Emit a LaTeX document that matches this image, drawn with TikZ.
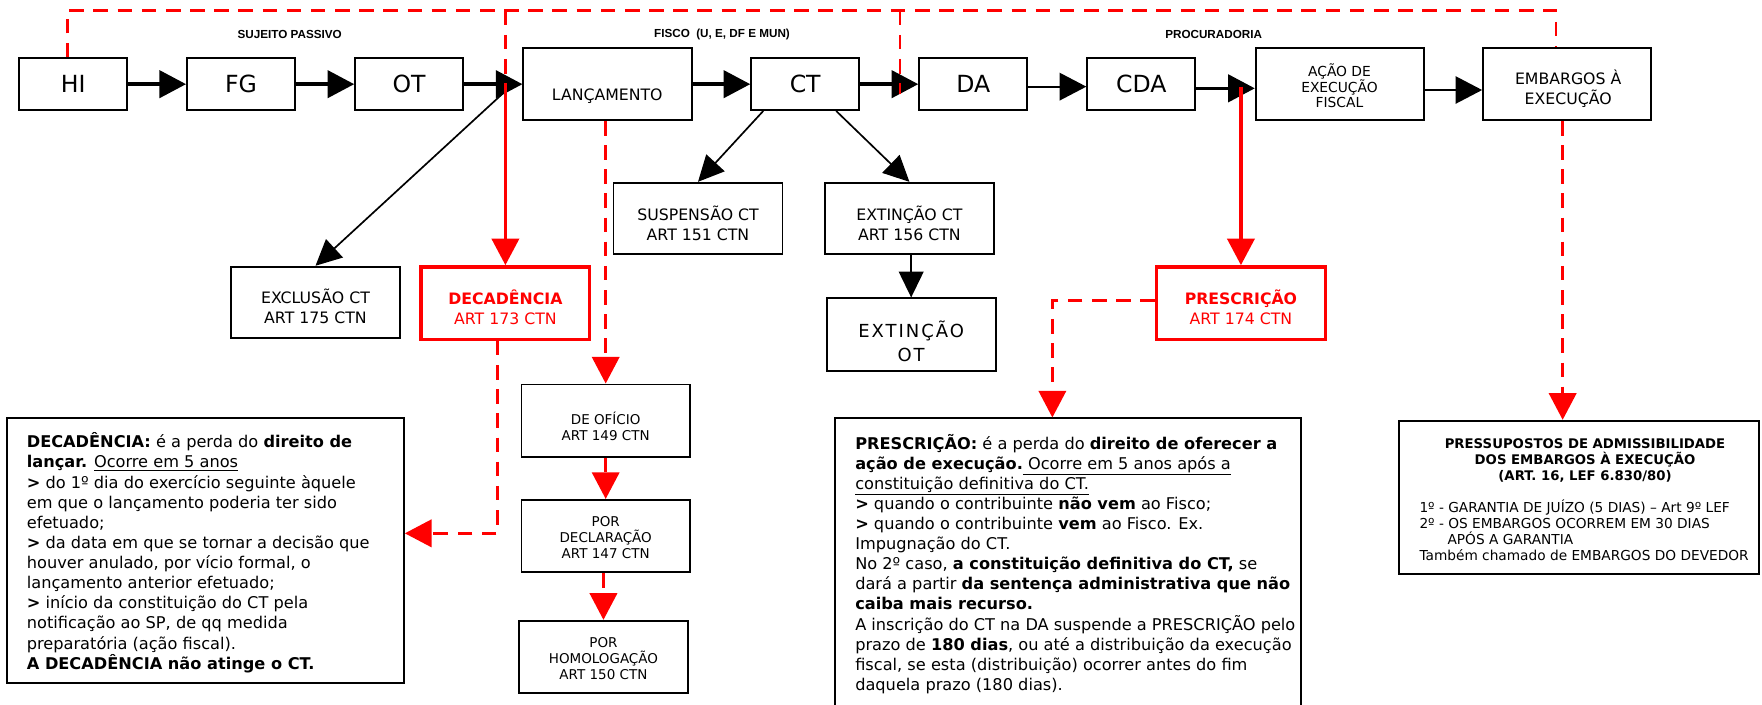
\documentclass[tikz,border=0pt]{standalone}
\usepackage{fontspec}
\setmainfont{DejaVu Sans}
\newfontfamily\labfont{Liberation Sans}
\newfontfamily\spfont[LetterSpace=11]{DejaVu Sans}
\usetikzlibrary{arrows.meta,calc}
\begin{document}
\begin{tikzpicture}[x=1pt,y=-1pt,
  bx/.style={draw=black,line width=1.6pt,inner sep=0pt},
  rbx/.style={draw=red,line width=3pt,inner sep=0pt},
  topbox/.style={bx,minimum width=96.2pt,minimum height=46pt,font=\fontsize{21}{25}\selectfont},
  widebox/.style={bx,minimum width=149.8pt,minimum height=63.8pt},
  midbox/.style={bx,minimum width=150.3pt,minimum height=63.7pt},
  redbox/.style={rbx,minimum width=150pt,minimum height=64.4pt},
  smallbox/.style={bx,minimum width=150pt,minimum height=64.4pt},
  txt/.style={inner sep=0pt,align=center,font=\fontsize{14}{17.7}\selectfont},
  smalltxt/.style={inner sep=0pt,align=center,font=\fontsize{12}{14.2}\selectfont},
  lab/.style={inner sep=0pt,font=\labfont\bfseries\fontsize{10.4}{12}\selectfont},
  tip/.style={-{Triangle[length=23.7pt,width=24.3pt]}},
  thk/.style={line width=3pt,tip},
  thn/.style={line width=1.7pt,tip},
  dg/.style={line width=1.5pt,-{Triangle[length=23pt,width=22pt]}},
  rarr/.style={red,line width=3pt,tip},
  rdash/.style={red,line width=2.4pt,dash pattern=on 13pt off 8.5pt},
  rdasharr/.style={rdash,tip},
  para/.style={inner sep=0pt,align=left,anchor=north west,font=\fontsize{14.4}{17.9}\selectfont}
]
\useasboundingbox (0,0) rectangle (1568,626.5);

% headings
\node[lab] (sp) at (257.8,31.1) {SUJEITO PASSIVO};
\node[lab] (fisco) at (642.5,31.1) {FISCO\ \ (U, E, DF E MUN)};
\node[lab] (proc) at (1080,31.1) {PROCURADORIA};

% top row
\node[topbox] (hi) at (65.25,74.9) {HI};
\node[topbox] (fg) at (214.45,74.9) {FG};
\node[topbox] (ot) at (364.1,74.9) {OT};
\node[widebox] (lanc) at (540.6,74.9) {};
\node[txt] (lanct) at (540.4,85.2) {LANÇAMENTO};
\node[topbox] (ct) at (716.55,74.9) {CT};
\node[topbox] (da) at (866.05,74.9) {DA};
\node[topbox] (cda) at (1015.65,74.9) {CDA};
\node[widebox] (acao) at (1192.35,74.9) {};
\node[txt,font=\fontsize{12.3}{14.1}\selectfont] (acaot) at (1192,76.4) {AÇÃO DE\\EXECUÇÃO\\FISCAL};
\node[widebox] (emb) at (1394.65,74.9) {};
\node[txt,font=\fontsize{14}{17.5}\selectfont] (embt) at (1395.5,79) {EMBARGOS À\\EXECUÇÃO};

% second row
\node[midbox] (susp) at (621.15,194.45) {};
\node[txt] (suspt) at (621.15,198.75) {SUSPENSÃO CT\\ART 151 CTN};
\node[midbox] (extct) at (809.3,194.45) {};
\node[txt] (extctt) at (809.3,198.75) {EXTINÇÃO CT\\ART 156 CTN};
\node[midbox] (excl) at (280.75,269.15) {};
\node[txt] (exclt) at (280.75,272.9) {EXCLUSÃO CT\\ART 175 CTN};
\node[redbox] (dec) at (449.75,269.65) {};
\node[txt,text=red] (dect) at (449.75,273.2) {\textbf{DECADÊNCIA}\\ART 173 CTN};
\node[midbox,minimum height=64.4pt] (extot) at (810.85,297.7) {};
\node[txt,font=\spfont\fontsize{16}{21.4}\selectfont] (extott) at (810.85,303.7) {EXTINÇÃO\\OT};
\node[redbox] (pres) at (1104.3,269.65) {};
\node[txt,text=red] (prest) at (1104.3,273.2) {\textbf{PRESCRIÇÃO}\\ART 174 CTN};

% lançamento kinds
\node[smallbox] (deof) at (539,374.3) {};
\node[smalltxt] (deoft) at (539,379) {DE OFÍCIO\\ART 149 CTN};
\node[smallbox] (pdecl) at (539,477) {};
\node[smalltxt] (pdeclt) at (539,478.8) {POR\\DECLARAÇÃO\\ART 147 CTN};
\node[smallbox] (phom) at (537,584.6) {};
\node[smalltxt] (phomt) at (537,585.9) {POR\\HOMOLOGAÇÃO\\ART 150 CTN};

% text boxes
\node[bx,minimum width=353.6pt,minimum height=235.8pt] (decbox) at (182.7,490.2) {};
\node[para] (decboxt) at (23.7,385) {\textbf{DECADÊNCIA:} é a perda do \textbf{direito de}\\
\textbf{lançar.} \underline{Ocorre em 5 anos}\\
\textbf{>} do 1º dia do exercício seguinte àquele\\
em que o lançamento poderia ter sido\\
efetuado;\\
\textbf{>} da data em que se tornar a decisão que\\
houver anulado, por vício formal, o\\
lançamento anterior efetuado;\\
\textbf{>} início da constituição do CT pela\\
notificação ao SP, de qq medida\\
preparatória (ação fiscal).\\
\textbf{A DECADÊNCIA não atinge o CT.}};

\node[bx,minimum width=415pt,minimum height=257.7pt] (presbox) at (950.5,501.15) {};
\node[para] (presboxt) at (760.9,386) {\textbf{PRESCRIÇÃO:} é a perda do \textbf{direito de oferecer a}\\
\textbf{ação de execução.}\underline{ Ocorre em 5 anos após a}\\
\underline{constituição definitiva do CT.}\\
\textbf{>} quando o contribuinte \textbf{não vem} ao Fisco;\\
\textbf{>} quando o contribuinte \textbf{vem} ao Fisco. Ex.\\
Impugnação do CT.\\
No 2º caso, \textbf{a constituição definitiva do CT,} se\\
dará a partir \textbf{da sentença administrativa que não}\\
\textbf{caiba mais recurso.}\\
A inscrição do CT na DA suspende a PRESCRIÇÃO pelo\\
prazo de \textbf{180 dias}, ou até a distribuição da execução\\
fiscal, se esta (distribuição) ocorrer antes do fim\\
daquela prazo (180 dias).};

\node[bx,minimum width=320pt,minimum height=136.7pt] (psbox) at (1405,442.75) {};
\node[inner sep=0pt,align=center,font=\bfseries\fontsize{11.8}{14.3}\selectfont] (pstitle) at (1410.5,409.5) {PRESSUPOSTOS DE ADMISSIBILIDADE\\DOS EMBARGOS À EXECUÇÃO\\(ART. 16, LEF 6.830/80)};
\node[inner sep=0pt,align=left,anchor=north west,font=\fontsize{12.2}{14.2}\selectfont] (pslist) at (1263,444.5) {1º - GARANTIA DE JUÍZO (5 DIAS) – Art 9º LEF\\
2º - OS EMBARGOS OCORREM EM 30 DIAS\\
\hspace*{25pt}APÓS A GARANTIA\\
Também chamado de EMBARGOS DO DEVEDOR};

% black connectors
\draw[thk] (hi) -- (fg);
\draw[thk] (fg) -- (ot);
\draw[thk] (ot) -- (lanc);
\draw[thk] (lanc) -- (ct);
\draw[thk] (ct) -- (da);
\draw[thn] ([yshift=-2.2pt]da.east) -- ([yshift=-2.2pt]cda.west);
\draw[thk] ([yshift=-3.7pt]cda.east) -- ([yshift=-3.7pt]acao.west);
\draw[thn] ([yshift=-5.2pt]acao.east) -- ([yshift=-5.2pt]emb.west);
\coordinate (lj) at (452,79);
\draw[dg] (lj) -- (excl.north);
\draw[dg] ([xshift=-37.3pt]ct.south) -- (susp.north);
\draw[dg] ([xshift=27.5pt]ct.south) -- (extct.north);
\draw[dg] (extot.north |- extct.south) -- (extot.north);

% red connectors
\coordinate (tr) at (1384.7,9.5);
\draw[rdash] ([xshift=-5pt]hi.north) |- (tr) -- (tr |- emb.north);
\coordinate (dj) at (449.75,75);
\draw[rdash] (dj |- tr) -- (dj);
\draw[rarr] (dj) -- (dec.north);
\coordinate (aj) at (801,84);
\draw[rdash] (aj |- tr) -- (aj);
\coordinate (pj) at (1104.3,77);
\draw[rarr] (pj) -- (pres.north);
\coordinate (ej) at (1390.6,0);
\draw[rdasharr] (ej |- emb.south) -- (ej |- psbox.north);
\draw[rdasharr] (deof.north |- lanc.south) -- (deof.north);
\draw[rdasharr] (pdecl.north |- deof.south) -- (pdecl.north);
\draw[rdasharr] (phom.north |- pdecl.south) -- (phom.north);
\coordinate (dd) at (442.5,474.6);
\draw[rdasharr] (dd |- dec.south) -- (dd) -- (dd -| decbox.east);
\coordinate (pd) at (936.5,0);
\draw[rdasharr] ([yshift=2pt]pres.west) -| (pd |- presbox.north);
\end{tikzpicture}
\end{document}
